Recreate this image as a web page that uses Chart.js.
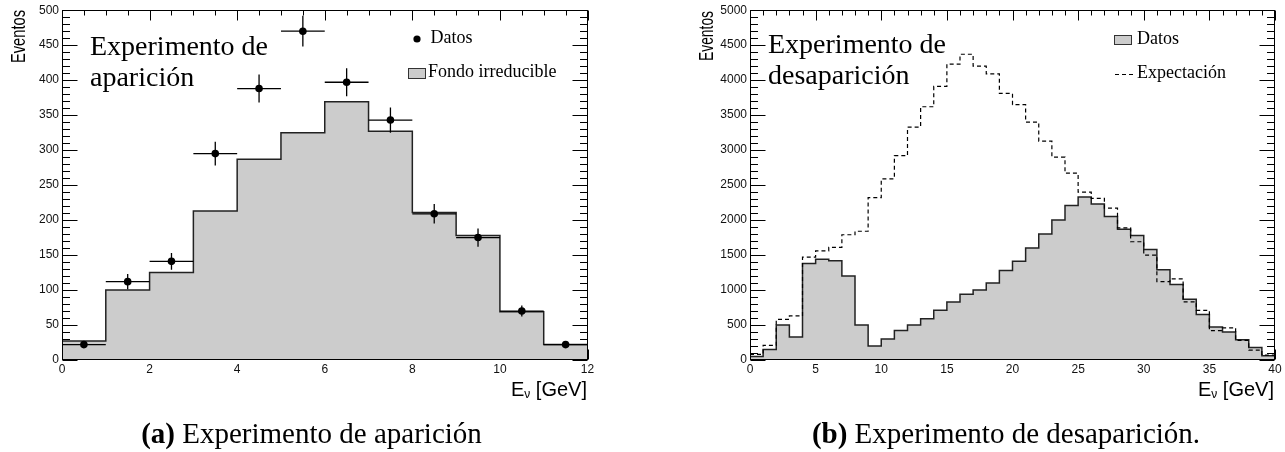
<!DOCTYPE html>
<html>
<head>
<meta charset="utf-8">
<script src="https://cdn.jsdelivr.net/npm/chart.js@4.4.1/dist/chart.umd.min.js"></script>
<style>
  html, body { margin: 0; padding: 0; background: #fff; }
  #wrap { position: relative; width: 1285px; height: 452px; overflow: hidden; }
  #chartA { position: absolute; left: 0; top: 0; }
  #chartB { position: absolute; left: 640px; top: 0; }
</style>
</head>
<body>
<div id="wrap">
  <canvas id="chartA" width="640" height="452"></canvas>
  <canvas id="chartB" width="645" height="452"></canvas>
</div>
<script>
Chart.defaults.font.family = "'Liberation Sans', Arial, sans-serif";
Chart.defaults.color = "#000";

const SERIF = "'Liberation Serif', 'Times New Roman', serif";
const SANS = "'Liberation Sans', Arial, sans-serif";
const GRAY = "#cccccc";
const INK = "#000000";

// (a) aparicion: bins of 1 GeV (low edges)
const binsA = [0, 1, 2, 3, 4, 5, 6, 7, 8, 9, 10, 11];
const fondoA = [27, 100, 125, 213, 287, 325, 369, 327, 211, 178, 69, 22];
const datosA = [22, 112, 141, 295, 388, 470, 397, 343, 209, 175, 70, 22];
const errA = [5, 11, 12, 17, 20, 22, 20, 18, 14, 13, 8, 5];
const xTicksA = [0, 2, 4, 6, 8, 10, 12];
const yTicksA = [0, 50, 100, 150, 200, 250, 300, 350, 400, 450, 500];

// (b) desaparicion: bins of 1 GeV (low edges)
const binsB = [0, 1, 2, 3, 4, 5, 6, 7, 8, 9, 10, 11, 12, 13, 14, 15, 16, 17, 18, 19,
  20, 21, 22, 23, 24, 25, 26, 27, 28, 29, 30, 31, 32, 33, 34, 35, 36, 37, 38, 39];
const datosB = [50, 150, 500, 330, 1380, 1440, 1420, 1200, 500, 200,
  300, 420, 500, 590, 710, 830, 940, 1000, 1100, 1280,
  1410, 1600, 1800, 2000, 2210, 2330, 2230, 2050, 1870, 1780,
  1580, 1290, 1080, 870, 650, 470, 400, 290, 180, 60];
const expB = [80, 210, 580, 630, 1470, 1560, 1610, 1790, 1840, 2320,
  2590, 2920, 3330, 3620, 3910, 4230, 4370, 4200, 4090, 3810,
  3650, 3400, 3130, 2900, 2670, 2400, 2310, 2170, 1890, 1690,
  1500, 1120, 1160, 830, 710, 420, 460, 280, 140, 70];
const xTicksB = [0, 5, 10, 15, 20, 25, 30, 35, 40];
const yTicksB = [0, 500, 1000, 1500, 2000, 2500, 3000, 3500, 4000, 4500, 5000];

const BIN_W = 1;

function histPoints(edges, values, width) {
  const pts = edges.map((x, i) => ({ x: x, y: values[i] }));
  pts.push({ x: edges[edges.length - 1] + width, y: values[values.length - 1] });
  return pts;
}

function subdivide(major, n) {
  const out = [];
  for (let i = 0; i < major.length - 1; i++) {
    const step = (major[i + 1] - major[i]) / n;
    for (let k = 1; k < n; k++) out.push(major[i] + k * step);
  }
  return out;
}

const crisp = (v) => Math.round(v) + 0.5;

// ROOT-like frame: ticks inside on all four sides
function rootFrame(p) {
  return {
    id: "rootFrame",
    beforeDatasetsDraw(chart) {
      const { ctx, chartArea: a, scales } = chart;
      const L = crisp(a.left), R = crisp(a.right - 1), T = crisp(a.top), B = crisp(a.bottom - 1);
      ctx.save();
      ctx.strokeStyle = INK;
      ctx.lineWidth = 1;
      ctx.beginPath();
      const yTick = (v, len) => {
        const py = crisp(scales.y.getPixelForValue(v));
        ctx.moveTo(L, py); ctx.lineTo(L + len, py);
        ctx.moveTo(R, py); ctx.lineTo(R - len, py);
      };
      const xTick = (v, len) => {
        const px = crisp(scales.x.getPixelForValue(v));
        ctx.moveTo(px, T); ctx.lineTo(px, T + len);
        ctx.moveTo(px, B); ctx.lineTo(px, B - len);
      };
      p.yTicks.forEach((v) => yTick(v, 15));
      subdivide(p.yTicks, p.yMinor).forEach((v) => yTick(v, 7.5));
      p.xTicks.forEach((v) => xTick(v, 10));
      subdivide(p.xTicks, p.xMinor).forEach((v) => xTick(v, 5));
      ctx.stroke();
      ctx.restore();
    },
    afterDatasetsDraw(chart) {
      const { ctx, chartArea: a, scales } = chart;
      ctx.save();
      if (p.errors) {
        ctx.strokeStyle = INK;
        ctx.lineWidth = 1.3;
        ctx.beginPath();
        p.points.forEach((v, i) => {
          const cx = p.bins[i] + BIN_W / 2;
          const px = scales.x.getPixelForValue(cx);
          const py = scales.y.getPixelForValue(v);
          const x0 = scales.x.getPixelForValue(cx - BIN_W / 2);
          const x1 = scales.x.getPixelForValue(cx + BIN_W / 2);
          ctx.moveTo(x0, py); ctx.lineTo(x1, py);
          ctx.moveTo(px, scales.y.getPixelForValue(v - p.errors[i]));
          ctx.lineTo(px, scales.y.getPixelForValue(v + p.errors[i]));
        });
        ctx.stroke();
      }
      ctx.strokeStyle = INK;
      ctx.lineWidth = 1;
      ctx.strokeRect(crisp(a.left), crisp(a.top), Math.round(a.right - a.left) - 1, Math.round(a.bottom - a.top) - 1);
      ctx.restore();
    },
    afterDraw(chart) {
      const ctx = chart.ctx;
      ctx.save();
      ctx.fillStyle = INK;
      p.decor(ctx, chart);
      ctx.restore();
    },
  };
}

function drawEventos(ctx, x, yEnd, len) {
  ctx.save();
  ctx.font = "20px " + SANS;
  const w = ctx.measureText("Eventos").width;
  ctx.translate(x, yEnd);
  ctx.rotate(-Math.PI / 2);
  ctx.scale(len / w, 1);
  ctx.textAlign = "right";
  ctx.textBaseline = "alphabetic";
  ctx.fillText("Eventos", 0, 0);
  ctx.restore();
}

function drawEnergyTitle(ctx, right, base) {
  const big = "20px " + SANS, small = "12px " + SANS;
  ctx.textAlign = "left";
  ctx.textBaseline = "alphabetic";
  ctx.font = big;
  const wE = ctx.measureText("E").width;
  const wRest = ctx.measureText(" [GeV]").width;
  ctx.font = small;
  const wNu = ctx.measureText("\u03bd").width;
  let x = right - (wE + wNu + wRest);
  ctx.font = big; ctx.fillText("E", x, base); x += wE;
  ctx.font = small; ctx.fillText("\u03bd", x, base + 2); x += wNu;
  ctx.font = big; ctx.fillText(" [GeV]", x, base);
}

function drawCaption(ctx, center, base, tag, text) {
  const bold = "bold 29px " + SERIF, reg = "29px " + SERIF;
  ctx.textAlign = "left";
  ctx.textBaseline = "alphabetic";
  ctx.font = bold;
  const wt = ctx.measureText(tag).width;
  ctx.font = reg;
  const wr = ctx.measureText(text).width;
  let x = center - (wt + wr) / 2;
  ctx.font = bold; ctx.fillText(tag, x, base);
  ctx.font = reg; ctx.fillText(text, x + wt, base);
}

function drawLines(ctx, x, lines, font) {
  ctx.font = font;
  ctx.textAlign = "left";
  ctx.textBaseline = "alphabetic";
  lines.forEach(([t, y]) => ctx.fillText(t, x, y));
}

function axisOptions(p) {
  const fmt = (v) => String(v);
  return {
    x: {
      type: "linear",
      min: p.xTicks[0],
      max: p.xTicks[p.xTicks.length - 1],
      grid: { display: false, drawTicks: false },
      border: { display: false },
      ticks: { font: { size: 12 }, padding: 2, maxRotation: 0, autoSkip: false, callback: fmt, color: "#111" },
      afterBuildTicks: (s) => { s.ticks = p.xTicks.map((v) => ({ value: v })); },
      afterFit: (s) => { s.height = 40; },
    },
    y: {
      type: "linear",
      min: p.yTicks[0],
      max: p.yTicks[p.yTicks.length - 1],
      grid: { display: false, drawTicks: false },
      border: { display: false },
      ticks: { font: { size: 12 }, padding: 3, autoSkip: false, callback: fmt, color: "#111" },
      afterBuildTicks: (s) => { s.ticks = p.yTicks.map((v) => ({ value: v })); },
      afterFit: (s) => { s.width = p.yWidth; },
    },
  };
}

function baseOptions(p) {
  return {
    responsive: false,
    animation: false,
    events: [],
    layout: { padding: { left: 0, right: p.padRight, top: 10, bottom: 52 } },
    plugins: { legend: { display: false }, tooltip: { enabled: false } },
    scales: axisOptions(p),
  };
}

// ---- (a) Experimento de aparicion ----
const cfgA = {
  xTicks: xTicksA, yTicks: yTicksA, xMinor: 4, yMinor: 5,
  yWidth: 62, padRight: 52.5,
  bins: binsA, points: datosA, errors: errA,
  decor(ctx) {
    drawLines(ctx, 90, [["Experimento de", 55], ["aparici\u00f3n", 86]], "28px " + SERIF);
    ctx.beginPath();
    ctx.arc(417, 39, 3.6, 0, Math.PI * 2);
    ctx.fill();
    drawLines(ctx, 430.5, [["Datos", 43]], "18px " + SERIF);
    ctx.fillStyle = GRAY;
    ctx.fillRect(408.5, 68.5, 17, 10);
    ctx.strokeStyle = "#333";
    ctx.lineWidth = 1;
    ctx.strokeRect(408.5, 68.5, 17, 10);
    ctx.fillStyle = INK;
    drawLines(ctx, 428, [["Fondo irreducible", 77]], "18px " + SERIF);
    drawEventos(ctx, 25, 10, 53);
    drawEnergyTitle(ctx, 587, 396);
    drawCaption(ctx, 311.5, 443, "(a)", " Experimento de aparici\u00f3n");
  },
};

new Chart(document.getElementById("chartA").getContext("2d"), {
  type: "line",
  data: {
    datasets: [
      {
        type: "scatter",
        label: "Datos",
        data: binsA.map((b, i) => ({ x: b + BIN_W / 2, y: datosA[i] })),
        pointRadius: 3.8,
        pointBackgroundColor: INK,
        pointBorderWidth: 0,
      },
      {
        label: "Fondo irreducible",
        data: histPoints(binsA, fondoA, BIN_W),
        stepped: true,
        fill: "origin",
        backgroundColor: GRAY,
        borderColor: "#222",
        borderWidth: 1.5,
        pointRadius: 0,
      },
    ],
  },
  options: baseOptions(cfgA),
  plugins: [rootFrame(cfgA)],
});

// ---- (b) Experimento de desaparicion ----
const cfgB = {
  xTicks: xTicksB, yTicks: yTicksB, xMinor: 5, yMinor: 5,
  yWidth: 110, padRight: 10,
  decor(ctx) {
    drawLines(ctx, 128, [["Experimento de", 53], ["desaparici\u00f3n", 84]], "28px " + SERIF);
    ctx.fillStyle = GRAY;
    ctx.fillRect(474.5, 35.5, 17, 9);
    ctx.strokeStyle = "#333";
    ctx.lineWidth = 1;
    ctx.strokeRect(474.5, 35.5, 17, 9);
    ctx.fillStyle = INK;
    drawLines(ctx, 497, [["Datos", 44]], "18px " + SERIF);
    ctx.save();
    ctx.strokeStyle = INK;
    ctx.lineWidth = 1.2;
    ctx.setLineDash([4, 3]);
    ctx.beginPath();
    ctx.moveTo(475, 74.5);
    ctx.lineTo(496, 74.5);
    ctx.stroke();
    ctx.restore();
    drawLines(ctx, 497, [["Expectaci\u00f3n", 78]], "18px " + SERIF);
    drawEventos(ctx, 73, 11, 50);
    drawEnergyTitle(ctx, 634, 396);
    drawCaption(ctx, 366, 443, "(b)", " Experimento de desaparici\u00f3n.");
  },
};

new Chart(document.getElementById("chartB").getContext("2d"), {
  type: "line",
  data: {
    datasets: [
      {
        label: "Expectaci\u00f3n",
        data: histPoints(binsB, expB, BIN_W),
        stepped: true,
        fill: false,
        borderColor: INK,
        borderWidth: 1.2,
        borderDash: [4, 3],
        pointRadius: 0,
      },
      {
        label: "Datos",
        data: histPoints(binsB, datosB, BIN_W),
        stepped: true,
        fill: "origin",
        backgroundColor: GRAY,
        borderColor: "#222",
        borderWidth: 1.5,
        pointRadius: 0,
      },
    ],
  },
  options: baseOptions(cfgB),
  plugins: [rootFrame(cfgB)],
});
</script>
</body>
</html>
